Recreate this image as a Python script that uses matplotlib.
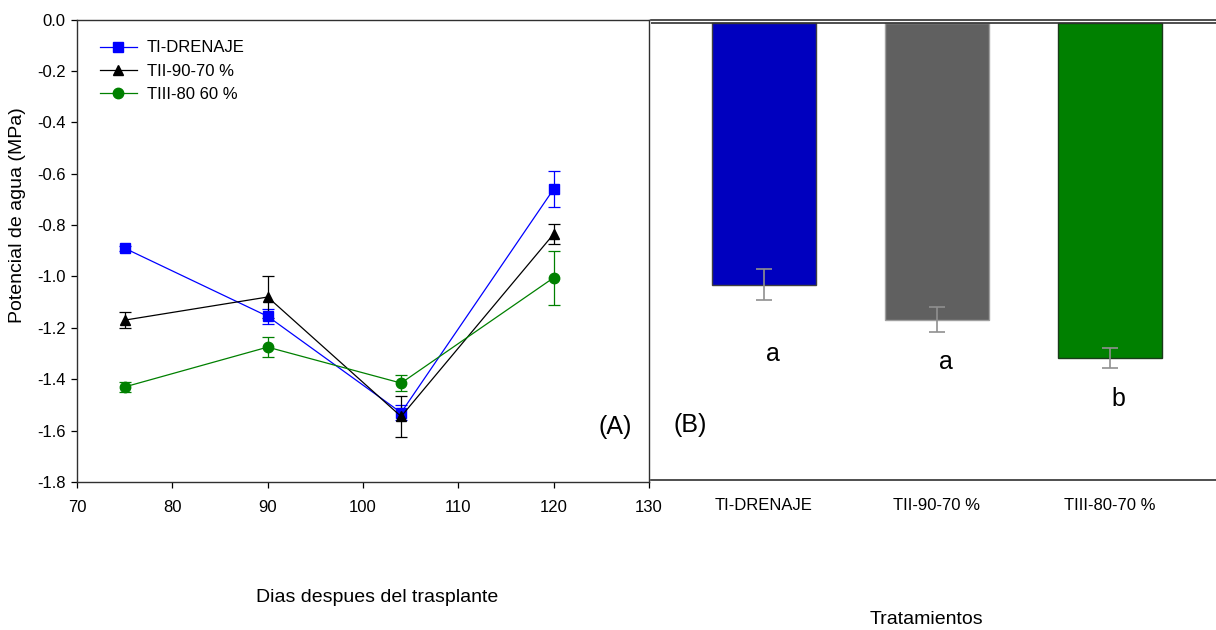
import numpy as np
import matplotlib
matplotlib.use("Agg")
import matplotlib.pyplot as plt
from matplotlib.lines import Line2D

plt.rcParams["font.family"] = ["Liberation Sans", "DejaVu Sans"]

# Panel A: water potential over days after transplant
days = [75, 90, 104, 120]
ti_drenaje = [-0.89, -1.155, -1.53, -0.66]
ti_drenaje_err = [0.01, 0.03, 0.03, 0.07]
tii_90_70 = [-1.17, -1.08, -1.545, -0.835]
tii_90_70_err = [0.03, 0.08, 0.08, 0.04]
tiii_80_60 = [-1.43, -1.275, -1.415, -1.005]
tiii_80_60_err = [0.02, 0.04, 0.03, 0.105]

# Panel B: mean per treatment
tratamientos = ["TI-DRENAJE", "TII-90-70 %", "TIII-80-70 %"]
medias = [-1.02, -1.155, -1.305]
medias_err = [0.06, 0.05, 0.04]
letras = ["a", "a", "b"]
letras_y = [-1.29, -1.32, -1.465]

fig = plt.figure(figsize=(12.16, 6.3), dpi=100)

# ---- left panel
ax1 = fig.add_axes([0.0633, 0.2349, 0.4704, 0.7341])
series = [
    (ti_drenaje, ti_drenaje_err, "#0000ff", "s", "TI-DRENAJE"),
    (tii_90_70, tii_90_70_err, "#000000", "^", "TII-90-70 %"),
    (tiii_80_60, tiii_80_60_err, "#008000", "o", "TIII-80 60 %"),
]
handles = []
for vals, err, col, mk, lab in series:
    ax1.errorbar(days, vals, yerr=err, color=col, marker=mk, markersize=7.5,
                 linewidth=0.9, elinewidth=0.9, capsize=4, capthick=0.9)
    handles.append(Line2D([], [], color=col, marker=mk, markersize=7.5,
                          linewidth=0.9, label=lab))

yt = np.arange(-1.8, 0.01, 0.2)
ax1.set_xlim(70, 130)
ax1.set_ylim(-1.8, 0.0)
ax1.set_xticks(np.arange(70, 131, 10))
ax1.set_yticks(yt)
ax1.set_yticklabels([f"{abs(v):.1f}" if abs(v) < 1e-9 else f"{v:.1f}" for v in yt])
ax1.tick_params(direction="out", length=4, width=0.9, labelsize=12, pad=4)
ax1.tick_params(axis="x", pad=9)
for s in ax1.spines.values():
    s.set_linewidth(1.0)
    s.set_color("#303030")

ax1.legend(handles=handles, loc="upper left", bbox_to_anchor=(0.02, 0.98),
           frameon=False, fontsize=12, handlelength=2.2, handletextpad=0.6,
           labelspacing=0.5, borderaxespad=0.3)
ax1.text(0.97, 0.12, "(A)", transform=ax1.transAxes, fontsize=18,
         ha="right", va="center")

# ---- right panel
ax2 = fig.add_axes([0.5354, 0.2381, 0.4646, 0.7306])
x = np.arange(len(tratamientos))
bar_colors = ["#0000bf", "#606060", "#008000"]
edge_colors = ["#404040", "#a0a0a0", "#1a3a1a"]
ax2.bar(x, medias, width=0.6, color=bar_colors, edgecolor=edge_colors,
        linewidth=1.0, zorder=2)
ax2.errorbar(x, medias, yerr=medias_err, fmt="none", ecolor="#909090",
             elinewidth=1.2, capsize=5.5, capthick=1.2, zorder=3)
ax2.axhline(0, color="#303030", linewidth=1.2, zorder=4)

ax2.set_xlim(-0.653, 2.613)
ax2.set_ylim(-1.779, 0.0117)
ax2.set_xticks(x)
ax2.set_xticklabels(tratamientos)
ax2.set_yticks([])
ax2.tick_params(axis="x", length=0, labelsize=12, pad=13)
ax2.spines["left"].set_visible(False)
ax2.spines["right"].set_visible(False)
for side in ["top", "bottom"]:
    ax2.spines[side].set_linewidth(1.2)
    ax2.spines[side].set_color("#303030")

for xi, txt, yi in zip(x, letras, letras_y):
    ax2.text(xi + 0.05, yi, txt, fontsize=18, ha="center", va="center")
ax2.text(0.04, 0.12, "(B)", transform=ax2.transAxes, fontsize=18,
         ha="left", va="center")

# axis titles
fig.text(18 / 1216, 1 - 215 / 630, "Potencial de agua (MPa)", rotation=90,
         fontsize=14, ha="center", va="center")
fig.text(377 / 1216, 1 - 598 / 630, "Dias despues del trasplante",
         fontsize=14, ha="center", va="center")
fig.text(926 / 1216, 1 - 620 / 630, "Tratamientos",
         fontsize=14, ha="center", va="center")

fig.savefig("out.png", dpi=100)
